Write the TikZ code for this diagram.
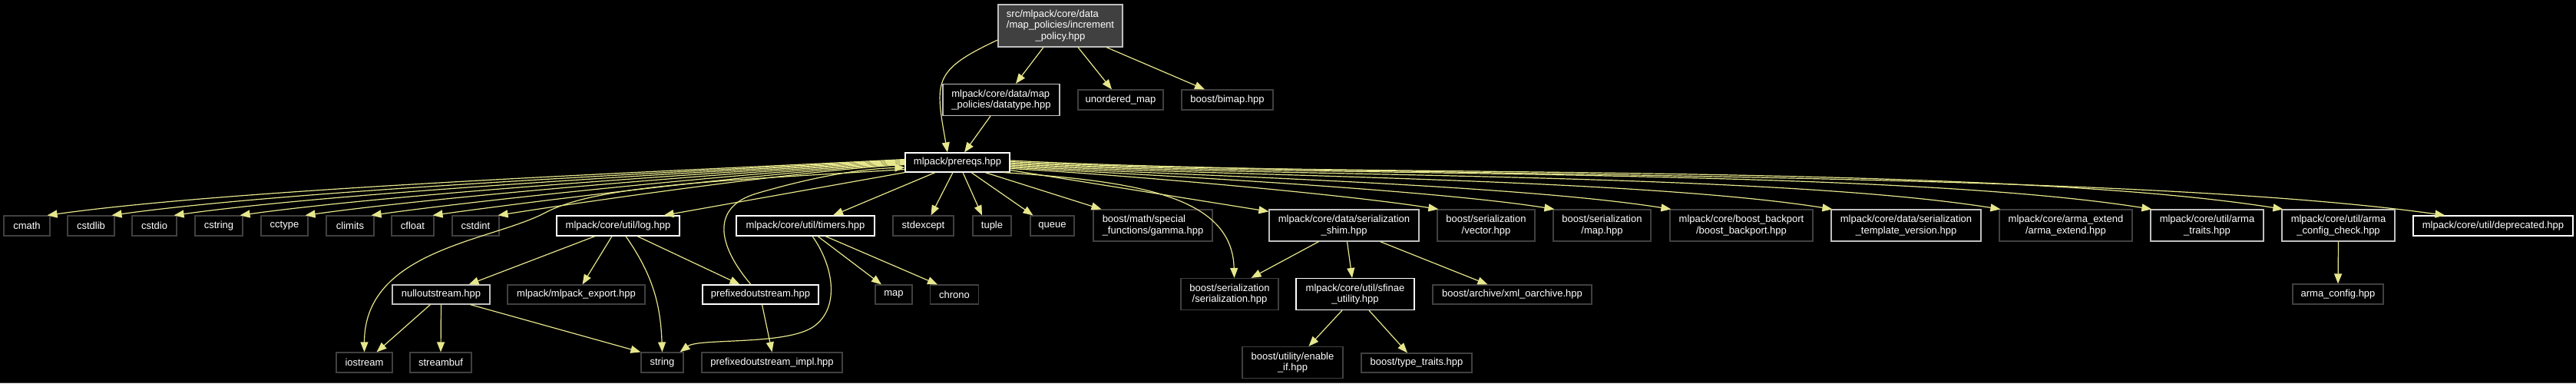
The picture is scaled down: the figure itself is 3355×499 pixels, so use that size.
\documentclass[tikz,border=0pt]{standalone}
\usepackage{fontspec}
\setmainfont{Liberation Sans}
\usetikzlibrary{arrows.meta}
\definecolor{edgecol}{RGB}{230,230,140}
\definecolor{extcol}{RGB}{64,64,64}
\definecolor{partcol}{RGB}{191,191,191}
\begin{document}
\begin{tikzpicture}[x=1pt, y=1pt, >={Triangle[length=13pt,width=10pt]},
        hdr/.style={draw=extcol, line width=1.2pt, fill=black, text=white,
            font=\fontsize{13}{14.5}\selectfont, inner xsep=3pt, inner ysep=2pt,
            minimum height=26pt, align=center},
        hdrdoc/.style={hdr, draw=white},
        hdrpart/.style={hdr, draw=partcol},
        tworow/.style={minimum height=41pt},
        inc/.style={->, draw=edgecol, line width=1.2pt}]
        \useasboundingbox (0,0) rectangle (3355,-499);
        \fill[black] (0,0) rectangle (3355,-499);
        \fill[extcol] (0,-497.5) rectangle (3355,-499);

        % 1. Nút gốc và tầng trên
        \node[hdrpart, fill=extcol, minimum width=162pt, minimum height=55pt] (root) at (1381,-33.5)
            {\rlap{src/mlpack/core/data}\phantom{/map\_policies/increment}\\/map\_policies/increment\\\_policy.hpp};
        \node[hdrpart, tworow, align=left, minimum width=152pt] (datatype) at (1304,-130)
            {mlpack/core/data/map\\\_policies/datatype.hpp};
        \node[hdr, minimum width=111pt] (umap) at (1459.5,-130) {unordered\_map};
        \node[hdr, minimum width=119pt] (bimap) at (1598.5,-130) {boost/bimap.hpp};
        \node[hdrdoc, minimum width=136pt, minimum height=25pt] (prereqs) at (1247,-211.5) {mlpack/prereqs.hpp};

        % 2. Hàng thứ hai
        \node[hdr, minimum width=60pt] (cmath) at (35,-294) {cmath};
        \node[hdr, minimum width=61pt] (cstdlib) at (118.5,-294) {cstdlib};
        \node[hdr, minimum width=58pt] (cstdio) at (201,-294) {cstdio};
        \node[hdr, minimum width=62pt] (cstring) at (285,-294) {cstring};
        \node[hdr, minimum width=61pt] (cctype) at (370.5,-294) {cctype};
        \node[hdr, minimum width=62pt] (climits) at (456,-294) {climits};
        \node[hdr, minimum width=55pt] (cfloat) at (537.5,-294) {cfloat};
        \node[hdr, minimum width=61pt] (cstdint) at (619.5,-294) {cstdint};
        \node[hdrdoc, minimum width=160pt] (log) at (805,-294) {mlpack/core/util/log.hpp};
        \node[hdrdoc, minimum width=180pt] (timers) at (1049,-294) {mlpack/core/util/timers.hpp};
        \node[hdr, minimum width=79pt] (stdexcept) at (1202.5,-294) {stdexcept};
        \node[hdr, minimum width=50pt] (tuple) at (1292,-294) {tuple};
        \node[hdr, minimum width=57pt] (queue) at (1370.5,-294) {queue};
        \node[hdr, tworow, align=left, minimum width=155pt] (gamma) at (1501.5,-293.5)
            {boost/math/special\\\_functions/gamma.hpp};
        \node[hdrpart, tworow, minimum width=195pt] (shim) at (1750.5,-293.5)
            {mlpack/core/data/serialization\\\_shim.hpp};
        \node[hdr, tworow, minimum width=127pt] (vector) at (1935.5,-293.5) {boost/serialization\\/vector.hpp};
        \node[hdr, tworow, minimum width=127pt] (sermap) at (2086.5,-293.5) {boost/serialization\\/map.hpp};
        \node[hdr, tworow, minimum width=186pt] (backport) at (2268,-293.5)
            {mlpack/core/boost\_backport\\/boost\_backport.hpp};
        \node[hdrpart, tworow, minimum width=195pt] (tmplver) at (2482.5,-293.5)
            {mlpack/core/data/serialization\\\_template\_version.hpp};
        \node[hdr, tworow, minimum width=173pt] (armaext) at (2690.5,-293.5)
            {mlpack/core/arma\_extend\\/arma\_extend.hpp};
        \node[hdrpart, tworow, minimum width=147pt] (armatraits) at (2874.5,-293.5)
            {mlpack/core/util/arma\\\_traits.hpp};
        \node[hdrpart, tworow, minimum width=147pt] (cfgcheck) at (3045.5,-293.5)
            {mlpack/core/util/arma\\\_config\_check.hpp};
        \node[hdrdoc, minimum width=208pt] (deprecated) at (3247,-294) {mlpack/core/util/deprecated.hpp};

        % 3. Hàng thứ ba
        \node[hdrpart, minimum width=127pt, minimum height=25pt] (nullout) at (574.5,-383.5) {nulloutstream.hpp};
        \node[hdr, minimum width=179pt, minimum height=25pt] (export) at (750.5,-383.5) {mlpack/mlpack\_export.hpp};
        \node[hdrdoc, minimum width=151pt, minimum height=25pt] (prefixed) at (990.5,-383.5) {prefixedoutstream.hpp};
        \node[hdr, minimum width=48pt, minimum height=25pt] (stdmap) at (1164,-383.5) {map};
        \node[hdr, minimum width=63pt, minimum height=25pt] (chrono) at (1243,-383.5) {chrono};
        \node[hdr, tworow, minimum width=127pt] (serial) at (1601.5,-383) {boost/serialization\\/serialization.hpp};
        \node[hdrdoc, tworow, minimum width=154pt] (sfinae) at (1765,-383) {mlpack/core/util/sfinae\\\_utility.hpp};
        \node[hdr, minimum width=207pt, minimum height=25pt] (xmlarch) at (1969.5,-383.5) {boost/archive/xml\_oarchive.hpp};
        \node[hdr, minimum width=118pt] (armacfg) at (3045,-383) {arma\_config.hpp};

        % 4. Hàng dưới cùng
        \node[hdr, minimum width=73pt] (iostream) at (474.5,-472) {iostream};
        \node[hdr, minimum width=80pt] (streambuf) at (574,-472) {streambuf};
        \node[hdr, minimum width=55pt] (string) at (862.5,-472) {string};
        \node[hdr, minimum width=183pt] (prefimpl) at (1005.5,-472) {prefixedoutstream\_impl.hpp};
        \node[hdr, tworow, minimum width=131pt] (enableif) at (1683.5,-472) {boost/utility/enable\\\_if.hpp};
        \node[hdr, minimum width=144pt, minimum height=25pt] (typetraits) at (1845,-472.5) {boost/type\_traits.hpp};

        % 5. Cạnh từ nút gốc
        \draw[inc] ([yshift=-18.5pt]root.west) to[out=205,in=100,looseness=1.5] ([xshift=-13pt]prereqs.north);
        \draw[inc] ([xshift=-22pt]root.south) -- ([xshift=19pt]datatype.north);
        \draw[inc] ([xshift=23pt]root.south) -- ([xshift=-11.5pt]umap.north);
        \draw[inc] ([xshift=60pt]root.south) -- ([xshift=-29.5pt]bimap.north);
        \draw[inc] ([xshift=-14pt]datatype.south) -- ([xshift=9pt]prereqs.north);

        % 6. Cạnh từ prereqs sang trái
        \draw[inc] ([yshift=4pt]prereqs.west) .. controls +(183:264) and +(8:261) .. ([xshift=-4pt]cmath.north east);
        \draw[inc] ([yshift=3pt]prereqs.west) .. controls +(183:245) and +(8:243) .. ([xshift=-4pt]cstdlib.north east);
        \draw[inc] ([yshift=2pt]prereqs.west) .. controls +(183:225) and +(8:223) .. ([xshift=-4pt]cstdio.north east);
        \draw[inc] ([yshift=1pt]prereqs.west) .. controls +(183:205) and +(8:203) .. ([xshift=-4pt]cstring.north east);
        \draw[inc] (prereqs.west) .. controls +(183:185) and +(8:183) .. ([xshift=-4pt]cctype.north east);
        \draw[inc] ([yshift=-1pt]prereqs.west) .. controls +(183:165) and +(8:163) .. ([xshift=-4pt]climits.north east);
        \draw[inc] ([yshift=-2pt]prereqs.west) .. controls +(183:146) and +(8:144) .. ([xshift=-2pt]cfloat.north east);
        \draw[inc] ([yshift=-3pt]prereqs.west) .. controls +(183:126) and +(9:124) .. ([xshift=-2pt]cstdint.north east);
        \draw[inc] ([yshift=-9pt]prereqs.west) .. controls (950,-235) and (780,-240) .. (710,-277)
            .. controls (640,-314) and (474.5,-325) .. (iostream.north);

        % 7. Cạnh từ prereqs xuống dưới
        \draw[inc] (prereqs.south west) -- ([xshift=-21pt]log.north east);
        \draw[inc] ([xshift=-29pt]prereqs.south) -- ([xshift=36pt]timers.north);
        \draw[inc] ([xshift=-6pt]prereqs.south) -- ([xshift=10pt]stdexcept.north);
        \draw[inc] ([xshift=7pt]prereqs.south) -- ([xshift=-13pt]tuple.north);
        \draw[inc] ([xshift=18pt]prereqs.south) -- ([xshift=-25pt]queue.north);
        \draw[inc] ([xshift=36pt]prereqs.south) -- ([xshift=-67pt]gamma.north);
        \draw[inc] ([xshift=-8pt]prereqs.south east) .. controls (1480,-236) and (1605,-255) .. ([xshift=6pt]serial.north);

        % 8. Cạnh từ prereqs sang phải
        \draw[inc] ([yshift=-10pt]prereqs.east) -- ([yshift=-3pt]shim.north west);
        \draw[inc] ([yshift=-8pt]prereqs.east) .. controls +(-3:131) and +(171:129) .. ([xshift=2pt]vector.north west);
        \draw[inc] ([yshift=-6.5pt]prereqs.east) .. controls +(-3:167) and +(171:165) .. ([xshift=2pt]sermap.north west);
        \draw[inc] ([yshift=-5pt]prereqs.east) .. controls +(-3:211) and +(171:209) .. ([xshift=2pt]backport.north west);
        \draw[inc] ([yshift=-3.5pt]prereqs.east) .. controls +(-3:261) and +(171:259) .. ([xshift=2pt]tmplver.north west);
        \draw[inc] ([yshift=-2pt]prereqs.east) .. controls +(-3:311) and +(171:309) .. ([xshift=2pt]armaext.north west);
        \draw[inc] ([yshift=-0.5pt]prereqs.east) .. controls +(-3:353) and +(171:351) .. ([xshift=2pt]armatraits.north west);
        \draw[inc] ([yshift=1pt]prereqs.east) .. controls +(-3:393) and +(171:391) .. ([xshift=2pt]cfgcheck.north west);
        \draw[inc] ([yshift=2.5pt]prereqs.east) .. controls +(-3:440) and +(172:438) .. ([xshift=42pt]deprecated.north west);

        % 9. Cạnh của log.hpp và timers.hpp
        \draw[inc] ([xshift=-30pt]log.south) -- ([xshift=36pt]nullout.north);
        \draw[inc] ([xshift=-8pt]log.south) -- ([xshift=8pt]export.north);
        \draw[inc] ([xshift=10pt]log.south) to[out=-55,in=92] (string.north);
        \draw[inc] ([xshift=25pt]log.south) -- ([xshift=-27pt]prefixed.north);
        \draw[inc] ([xshift=9pt]timers.south) .. controls (1085,-345) and (1095,-400) .. (1060,-425)
            .. controls (1025,-450) and (910,-440) .. ([xshift=-5pt]string.north east);
        \draw[inc] ([xshift=16pt]timers.south) -- ([xshift=-16pt]stdmap.north);
        \draw[inc] ([xshift=26pt]timers.south) -- ([xshift=-22pt]chrono.north);

        % 10. Cạnh ngược về prereqs
        \draw[inc] ([xshift=-12.5pt]prefixed.north) .. controls (935,-320) and (925,-270) .. (985,-252)
            .. controls (1060,-230) and (1120,-220) .. ([yshift=-6.5pt]prereqs.west);

        % 11. Các cạnh còn lại
        \draw[inc] ([xshift=-14pt]nullout.south) -- ([xshift=16pt]iostream.north);
        \draw[inc] (nullout.south) -- (streambuf.north);
        \draw[inc] ([xshift=38pt]nullout.south) -- (string.north west);
        \draw[inc] ([xshift=2pt]prefixed.south) -- (prefimpl.north);
        \draw[inc] ([xshift=-33pt]shim.south) -- ([xshift=28pt]serial.north);
        \draw[inc] ([xshift=4pt]shim.south) -- ([xshift=-4pt]sfinae.north);
        \draw[inc] ([xshift=47pt]shim.south) -- ([xshift=-32pt]xmlarch.north);
        \draw[inc] ([xshift=-17pt]sfinae.south) -- ([xshift=21pt]enableif.north);
        \draw[inc] ([xshift=18pt]sfinae.south) -- ([xshift=-12pt]typetraits.north);
        \draw[inc] (cfgcheck.south) -- (armacfg.north);
    \end{tikzpicture}
\end{document}
